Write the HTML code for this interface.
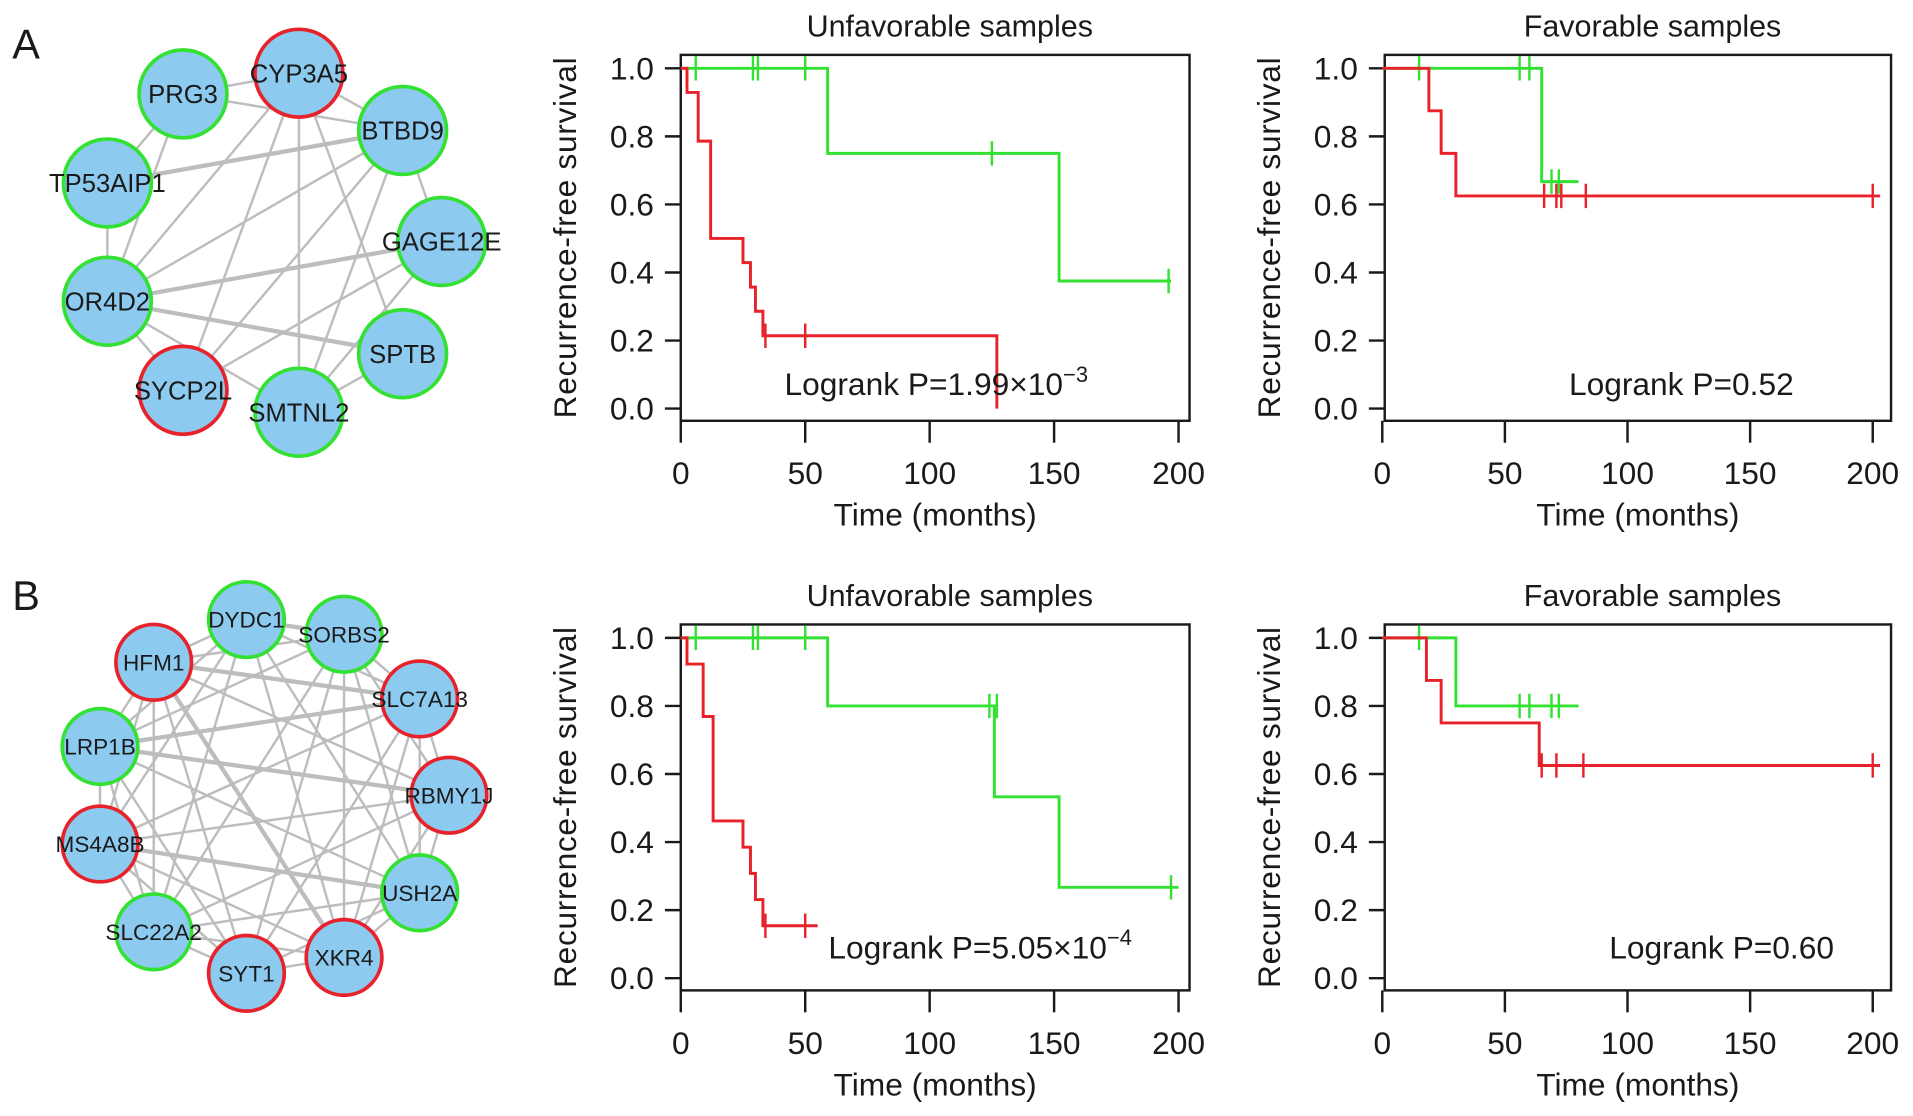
<!DOCTYPE html>
<html><head><meta charset="utf-8">
<style>
html,body{margin:0;padding:0;background:#fff;}
svg{display:block;}
text{font-family:"Liberation Sans",Arial,sans-serif;fill:#1a1a1a;}
</style></head>
<body>
<svg id="fig" width="1913" height="1116" viewBox="0 0 1568 915" preserveAspectRatio="none" xmlns="http://www.w3.org/2000/svg">
<text x="10" y="48" font-size="34">A</text>
<text x="10" y="500" font-size="34">B</text>
<g id="netA"></g>
<g id="netB"></g>
<g id="plots"></g>
</svg>
<script>
// ---------- Network data ----------
const netANodes = ["CYP3A5","PRG3","BTBD9","TP53AIP1","GAGE12E","OR4D2","SPTB","SYCP2L","SMTNL2"];
const netANodeColor = ["r","g","g","g","g","g","g","r","g"];
const netAEdges = [[0,1],[0,2],[0,8],[0,7],[0,5],[0,6],[1,2],[1,5],[3,2],[3,5],[2,5],[2,7],[2,4],[4,5],[4,8],[5,6],[5,7],[5,8],[6,8],[1,3],[2,8],[4,7]];
const netAThick = [[3,2],[4,5],[5,6]];
const netBNodes = ["DYDC1","SORBS2","HFM1","SLC7A13","LRP1B","RBMY1J","MS4A8B","USH2A","SLC22A2","XKR4","SYT1"];
const netBNodeColor = ["g","g","r","r","g","r","r","g","g","r","r"];
const netBThick = [[2,3],[4,3],[4,5],[6,7],[2,9],[0,1]];

// ---------- KM data ----------
const kmTimesA1g=[0,59,152,197], kmSurvA1g=[1,0.75,0.375,0.375], kmCensA1gT=[6,29,31,50,125,196], kmCensA1gS=[1,1,1,1,0.75,0.375];
const kmTimesA1r=[0,2.5,7,12,25,28,30,33,127,127], kmSurvA1r=[1,0.929,0.786,0.5,0.429,0.357,0.286,0.214,0.214,0], kmCensA1rT=[34,50], kmCensA1rS=[0.214,0.214];
const kmTimesA2g=[0,65,80], kmSurvA2g=[1,0.667,0.667], kmCensA2gT=[15,56,60,69,72], kmCensA2gS=[1,1,1,0.667,0.667];
const kmTimesA2r=[0,19,24,30,203], kmSurvA2r=[1,0.875,0.75,0.625,0.625], kmCensA2rT=[66,71,73,83,200], kmCensA2rS=[0.625,0.625,0.625,0.625,0.625];
const kmTimesB1g=[0,59,126,152,200], kmSurvB1g=[1,0.8,0.533,0.267,0.267], kmCensB1gT=[6,29,31,50,124,127,197], kmCensB1gS=[1,1,1,1,0.8,0.8,0.267];
const kmTimesB1r=[0,2.5,9,13,25,28,30,33,55], kmSurvB1r=[1,0.923,0.769,0.462,0.385,0.308,0.231,0.154,0.154], kmCensB1rT=[34,50], kmCensB1rS=[0.154,0.154];
const kmTimesB2g=[0,30,80], kmSurvB2g=[1,0.8,0.8], kmCensB2gT=[15,56,60,69,72], kmCensB2gS=[1,0.8,0.8,0.8,0.8];
const kmTimesB2r=[0,18,24,64,203], kmSurvB2r=[1,0.875,0.75,0.625,0.625], kmCensB2rT=[65,71,82,200], kmCensB2rS=[0.625,0.625,0.625,0.625];
const xTicks=[0,50,100,150,200];
const yTicks=[0,0.2,0.4,0.6,0.8,1.0];
const yTickLabels=["0.0","0.2","0.4","0.6","0.8","1.0"];

const NS="http://www.w3.org/2000/svg";
function mk(tag,attrs,parent){const e=document.createElementNS(NS,tag);for(const k in attrs)e.setAttribute(k,attrs[k]);parent.appendChild(e);return e;}

function placeNet(g,names,cols,pos,edges,thick,nr,fs){
  edges.forEach(e=>{
    const isT=thick.some(t=>(t[0]==e[0]&&t[1]==e[1])||(t[0]==e[1]&&t[1]==e[0]));
    const l=mk('line',{x1:pos[e[0]][0],y1:pos[e[0]][1],x2:pos[e[1]][0],y2:pos[e[1]][1],stroke:'#bdbdbd','stroke-width':isT?3.5:2},g);
    
    
  });
  names.forEach((n,i)=>{
    const c=mk('circle',{cx:pos[i][0],cy:pos[i][1],r:nr,fill:'#8ccaf0',stroke:cols[i]=='r'?'#e8222a':'#33e133','stroke-width':3},g);
    
    
  });
  names.forEach((n,i)=>{
    const t=mk('text',{x:pos[i][0],y:pos[i][1]+fs*0.36,'font-size':fs,'text-anchor':'middle'},g);
    t.textContent=n;
    
    
  });
}
const posA=[[245,60],[150,77],[330,107],[88,150],[362,198],[88,247],[330,290],[150,320],[245,338]];
placeNet(document.getElementById('netA'),netANodes,netANodeColor,posA,netAEdges,netAThick,36,21);
const posB=[[202,508],[282,520],[126,543],[344,573],[82,612],[368,652],[82,692],[344,732],[126,764],[282,785],[202,798]];
const netBEdges=[];
for(let i=0;i<11;i++)for(let j=i+1;j<11;j++){ if((i*7+j*3)%5!==0) netBEdges.push([i,j]); }
placeNet(document.getElementById('netB'),netBNodes,netBNodeColor,posB,netBEdges,netBThick,31,18.5);

// ---------- KM plots ----------
function plot(id,box,title,curves,pText,pSup,pX,pY){
  const g=mk('g',{},document.getElementById('plots'));
  
  
  const [L,R,T,B,x0,x200,y1,y0]=box;
  const sx=v=>x0+(x200-x0)*v/200, sy=v=>y0+(y1-y0)*v;
  const tt=mk('text',{x:(L+R)/2+12,y:T-15,'font-size':25,'text-anchor':'middle'},g);tt.textContent=title;
  
  
  mk('rect',{x:L,y:T,width:R-L,height:B-T,fill:'none',stroke:'#1a1a1a','stroke-width':2},g);
  xTicks.forEach(v=>{
    mk('line',{x1:sx(v),x2:sx(v),y1:B,y2:B+18,stroke:'#1a1a1a','stroke-width':2},g);
    const t=mk('text',{x:sx(v),y:B+52,'font-size':26,'text-anchor':'middle'},g);t.textContent=v;
    
    
  });
  yTicks.forEach((v,i)=>{
    mk('line',{x1:L-13,x2:L,y1:sy(v),y2:sy(v),stroke:'#1a1a1a','stroke-width':2},g);
    const t=mk('text',{x:L-22,y:sy(v)+9,'font-size':26,'text-anchor':'end'},g);t.textContent=yTickLabels[i];
    
    
  });
  const xt=mk('text',{x:(L+R)/2,y:B+86,'font-size':26,'text-anchor':'middle'},g);xt.textContent='Time (months)';
  
  
  const yc=(T+B)/2, yx=L-86;
  const yt=mk('text',{x:yx,y:yc,'font-size':26,'text-anchor':'middle',textLength:296,lengthAdjust:'spacing',transform:`rotate(-90 ${yx} ${yc})`},g);yt.textContent='Recurrence-free survival';
  
  
  curves.forEach(c=>{
    const [ts,ss,ct,cs,col]=c;
    let d='M'+sx(ts[0])+','+sy(ss[0]);
    for(let i=1;i<ts.length;i++){d+=' H'+sx(ts[i])+' V'+sy(ss[i]);}
    const p=mk('path',{d:d,fill:'none',stroke:col,'stroke-width':2.4},g);
    
    
    ct.forEach((t,i)=>{
      const m=mk('line',{x1:sx(t),x2:sx(t),y1:sy(cs[i])-10,y2:sy(cs[i])+10,stroke:col,'stroke-width':2},g);
      
      
    });
  });
  const pt=mk('text',{x:pX,y:pY,'font-size':26},g);
  pt.textContent=pText;
  if(pSup){const s=mk('tspan',{dy:-11,'font-size':18},pt);s.textContent=pSup;}
  
  
}
const G='#33e133', Rd='#e8222a';
plot('km-a-unfavorable',[558,975,45,345,558,966,56,335],'Unfavorable samples',
 [[kmTimesA1g,kmSurvA1g,kmCensA1gT,kmCensA1gS,G],[kmTimesA1r,kmSurvA1r,kmCensA1rT,kmCensA1rS,Rd]],'Logrank P=1.99×10','−3',643,324);
plot('km-a-favorable',[1135,1550,45,345,1133,1535,56,335],'Favorable samples',
 [[kmTimesA2g,kmSurvA2g,kmCensA2gT,kmCensA2gS,G],[kmTimesA2r,kmSurvA2r,kmCensA2rT,kmCensA2rS,Rd]],'Logrank P=0.52','',1286,324);
plot('km-b-unfavorable',[558,975,512,812,558,966,523,802],'Unfavorable samples',
 [[kmTimesB1g,kmSurvB1g,kmCensB1gT,kmCensB1gS,G],[kmTimesB1r,kmSurvB1r,kmCensB1rT,kmCensB1rS,Rd]],'Logrank P=5.05×10','−4',679,786);
plot('km-b-favorable',[1135,1550,512,812,1133,1535,523,802],'Favorable samples',
 [[kmTimesB2g,kmSurvB2g,kmCensB2gT,kmCensB2gS,G],[kmTimesB2r,kmSurvB2r,kmCensB2rT,kmCensB2rS,Rd]],'Logrank P=0.60','',1319,786);
</script>
</body></html>
